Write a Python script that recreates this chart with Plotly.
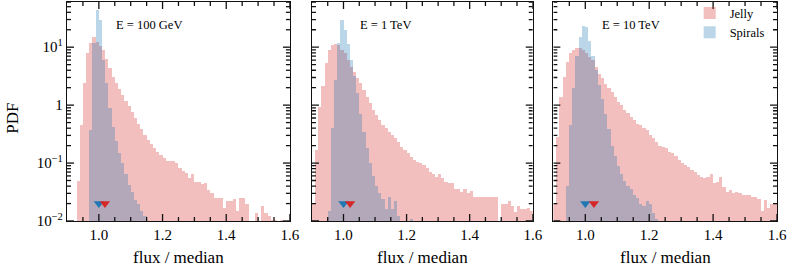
import numpy as np
import plotly.graph_objects as go
from plotly.subplots import make_subplots

# ---------------- data ----------------
BIN_START = 0.90
BIN_WIDTH = 0.01
N_BINS = 70
N = None

panel_titles = ["E = 100 GeV", "E = 1 TeV", "E = 10 TeV"]
series_names = ["Jelly", "Spirals"]

jelly_100gev = [N, N, N, 0.05, 0.45, 2.4, 8.0, 12.0, 15.0, 12.5,
                10.5, 8.9, 6.3, 4.4, 3.1, 2.4, 1.9, 1.5, 1.2, 0.95,
                0.75, 0.6, 0.48, 0.38, 0.3, 0.25, 0.21, 0.18, 0.155, 0.138,
                0.123, 0.11, 0.11, 0.108, 0.1, 0.081, 0.074, 0.068, 0.055, 0.066,
                0.048, 0.048, 0.044, 0.046, 0.034, 0.03, 0.025, 0.025, 0.025, 0.017,
                0.022, 0.022, 0.024, 0.015, 0.025, 0.025, 0.0195, N, N, 0.014,
                N, 0.018, 0.014, 0.012, 0.0105, 0.0103, 0.0102, 0.0103, N, N]
spirals_100gev = [N, N, N, N, N, N, N, 0.37, 12.0, 44.0,
                  30.0, 6.0, 2.4, 0.9, 0.42, 0.24, 0.15, 0.1, 0.066, 0.042,
                  0.032, 0.023, 0.02, 0.015, 0.012, N, N, N, N, N,
                  N, N, N, N, N, N, N, N, N, N,
                  N, N, N, N, N, N, N, N, N, N,
                  N, N, N, N, N, N, N, N, N, N,
                  N, N, N, N, N, N, N, N, N, N]

jelly_1tev = [0.02, 0.17, 0.93, 2.1, 5.3, 8.9, 10.7, 11.5, 10.7, 8.9,
              7.8, 6.0, 4.6, 3.8, 2.9, 2.4, 1.8, 1.4, 1.07, 0.82,
              0.67, 0.55, 0.45, 0.40, 0.35, 0.30, 0.27, 0.23, 0.19, 0.17,
              0.147, 0.129, 0.113, 0.105, 0.1, 0.093, 0.081, 0.071, 0.066, 0.058,
              0.066, 0.055, 0.048, 0.045, 0.046, 0.036, 0.036, 0.032, 0.035, 0.03,
              0.033, 0.026, 0.026, 0.026, 0.026, 0.026, 0.026, 0.026, 0.026, N,
              0.02, 0.02, 0.022, 0.018, 0.0145, 0.018, 0.016, 0.016, 0.017, 0.015]
spirals_1tev = [N, N, N, N, N, 0.015, 0.4, 2.7, 12.0, 30.0,
                19.5, 11.5, 6.0, 3.2, 1.6, 0.7, 0.35, 0.18, 0.1, 0.06,
                0.04, 0.03, 0.024, 0.016, 0.026, 0.016, 0.022, 0.012, N, N,
                N, 0.011, N, N, N, N, N, N, N, N,
                N, N, N, N, N, N, N, N, N, N,
                N, N, N, N, N, N, N, N, N, N,
                N, N, N, N, N, N, N, N, N, N]

jelly_10tev = [0.02, 0.28, 1.4, 3.1, 5.6, 7.8, 8.9, 9.6, 9.6, 8.9,
               7.8, 6.7, 6.0, 4.6, 3.5, 2.9, 2.35, 1.95, 1.7, 1.4,
               1.15, 1.0, 0.81, 0.72, 0.63, 0.55, 0.48, 0.45, 0.4, 0.37,
               0.3, 0.27, 0.23, 0.2, 0.19, 0.18, 0.158, 0.148, 0.13, 0.113,
               0.1, 0.093, 0.087, 0.076, 0.071, 0.062, 0.058, 0.055, 0.058, 0.066,
               0.045, 0.048, 0.058, 0.039, 0.032, 0.034, 0.03, 0.032, 0.03, 0.028,
               0.028, 0.028, 0.026, 0.026, 0.024, 0.015, 0.023, 0.0165, 0.02, 0.02]
spirals_10tev = [N, N, N, N, 0.04, 0.45, 2.0, 7.0, 15.0, 23.0,
                 22.0, 13.0, 7.0, 4.0, 2.2, 1.3, 0.7, 0.38, 0.2, 0.13,
                 0.09, 0.065, 0.05, 0.04, 0.035, 0.028, 0.025, 0.02, 0.018, 0.022,
                 0.02, 0.014, 0.011, N, N, N, N, N, N, N,
                 N, N, N, N, N, N, N, N, N, N,
                 N, N, N, N, N, N, N, N, N, N,
                 N, N, N, N, N, N, N, N, N, N]

median_spirals = [1.0, 1.0, 1.0]
median_jelly = [1.019, 1.021, 1.027]
median_marker_level = 0.02

X_RANGE = [0.9, 1.6]
Y_LOG_RANGE = [-2, 1.78]
x_major_ticks = [1.0, 1.2, 1.4, 1.6]
x_minor_ticks = [0.95, 1.05, 1.1, 1.15, 1.25, 1.3, 1.35, 1.45, 1.5, 1.55]
y_major_ticks = [0.01, 0.1, 1, 10]
y_major_labels = ["10<sup>−2</sup>", "10<sup>−1</sup>", "1", "10<sup>1</sup>"]
y_minor_ticks = [m * d for d in (0.01, 0.1, 1, 10) for m in range(2, 10)
                 if np.log10(m * d) < Y_LOG_RANGE[1]]

jelly_all = [jelly_100gev, jelly_1tev, jelly_10tev]
spirals_all = [spirals_100gev, spirals_1tev, spirals_10tev]

# ---------------- style ----------------
JELLY_FILL = "rgba(214,39,40,0.3)"
SPIRALS_FILL = "rgba(31,119,180,0.3)"
JELLY_MARK = "#d62728"
SPIRALS_MARK = "#1f77b4"
FONT = "Liberation Serif"
AXC = "#111111"
W, H = 789, 271
MARGIN = dict(l=67, r=12, t=2, b=50)
MAJOR_LEN, MINOR_LEN = 7, 4
domains = [[0.0, 0.314], [0.345, 0.656], [0.685, 1.0]]

bin_centers = BIN_START + BIN_WIDTH * (np.arange(N_BINS) + 0.5)
plot_w = W - MARGIN["l"] - MARGIN["r"]
plot_h = H - MARGIN["t"] - MARGIN["b"]
decades_per_px = (Y_LOG_RANGE[1] - Y_LOG_RANGE[0]) / plot_h
y_lo, y_hi = 10 ** Y_LOG_RANGE[0], 10 ** Y_LOG_RANGE[1]

fig = make_subplots(rows=1, cols=3, shared_yaxes=True, horizontal_spacing=0.03)

for i in range(3):
    col = i + 1
    fig.add_trace(go.Bar(x=bin_centers, y=jelly_all[i], width=BIN_WIDTH,
                         marker=dict(color=JELLY_FILL, line=dict(width=0)),
                         name=series_names[0], showlegend=(i == 2)), row=1, col=col)
    fig.add_trace(go.Bar(x=bin_centers, y=spirals_all[i], width=BIN_WIDTH,
                         marker=dict(color=SPIRALS_FILL, line=dict(width=0)),
                         name=series_names[1], showlegend=(i == 2)), row=1, col=col)

    # inward ticks on all four sides, drawn as one line trace
    panel_w = (domains[i][1] - domains[i][0]) * plot_w
    units_per_px = (X_RANGE[1] - X_RANGE[0]) / panel_w
    tx, ty = [], []
    for vals, L in ((x_major_ticks, MAJOR_LEN), (x_minor_ticks, MINOR_LEN)):
        fac = 10 ** (L * decades_per_px)
        for v in vals:
            tx += [v, v, None, v, v, None]
            ty += [y_lo, y_lo * fac, None, y_hi, y_hi / fac, None]
    for vals, L in ((y_major_ticks, MAJOR_LEN), (y_minor_ticks, MINOR_LEN)):
        dx = L * units_per_px
        for v in vals:
            tx += [X_RANGE[0], X_RANGE[0] + dx, None, X_RANGE[1], X_RANGE[1] - dx, None]
            ty += [v, v, None, v, v, None]
    fig.add_trace(go.Scatter(x=tx, y=ty, mode="lines", line=dict(color=AXC, width=1.3),
                             showlegend=False, hoverinfo="skip", cliponaxis=False),
                  row=1, col=col)

    fig.add_trace(go.Scatter(x=[median_spirals[i]], y=[median_marker_level], mode="markers",
                             marker=dict(symbol="triangle-down", size=9, color=SPIRALS_MARK,
                                         line=dict(width=0)),
                             showlegend=False, hoverinfo="skip"), row=1, col=col)
    fig.add_trace(go.Scatter(x=[median_jelly[i]], y=[median_marker_level], mode="markers",
                             marker=dict(symbol="triangle-down", size=9, color=JELLY_MARK,
                                         line=dict(width=0)),
                             showlegend=False, hoverinfo="skip"), row=1, col=col)

for i in range(3):
    sfx = "" if i == 0 else str(i + 1)
    xd, yd = f"x{sfx} domain", f"y{sfx} domain"
    fig.layout["xaxis" + sfx].update(
        domain=domains[i], range=X_RANGE, tickmode="array",
        tickvals=x_major_ticks, ticktext=[f"{v:.1f}" for v in x_major_ticks],
        ticks="", showline=True, linecolor=AXC, linewidth=1.3, mirror=True,
        showgrid=False, zeroline=False, automargin=False,
        tickfont=dict(family=FONT, size=15, color="black"),
    )
    fig.layout["yaxis" + sfx].update(
        type="log", range=Y_LOG_RANGE,
        tickmode="array", tickvals=y_major_ticks, ticktext=y_major_labels,
        showticklabels=(i == 0), ticks="",
        showline=True, linecolor=AXC, linewidth=1.3, mirror=True,
        showgrid=False, zeroline=False, automargin=False,
        tickfont=dict(family=FONT, size=15, color="black"),
    )
    fig.add_annotation(text=panel_titles[i], xref=xd, yref=yd,
                       x=0.21, y=0.895, xanchor="left", yanchor="middle", showarrow=False,
                       font=dict(family=FONT, size=12.5, color="black"))
    fig.add_annotation(text="flux / median", xref=xd, yref="paper",
                       x=0.5, y=-0.165, xanchor="center", yanchor="middle", showarrow=False,
                       font=dict(family=FONT, size=17, color="black"))

fig.add_annotation(text="PDF", xref="paper", yref="paper", x=-0.078, y=0.47,
                   xanchor="center", yanchor="middle", textangle=-90, showarrow=False,
                   font=dict(family=FONT, size=17, color="black"))

fig.update_layout(
    width=W, height=H,
    margin=dict(**MARGIN, autoexpand=False),
    barmode="overlay", bargap=0,
    plot_bgcolor="white", paper_bgcolor="white",
    font=dict(family=FONT, color="black"),
    legend=dict(x=0.877, y=1.017, xanchor="left", yanchor="top",
                bgcolor="rgba(0,0,0,0)", font=dict(family=FONT, size=12.5, color="black"),
                tracegroupgap=0, itemwidth=30),
)

fig.write_html("out.html", config={"displayModeBar": False},
               post_script="document.body.style.margin='0';document.body.style.overflow='hidden';")
